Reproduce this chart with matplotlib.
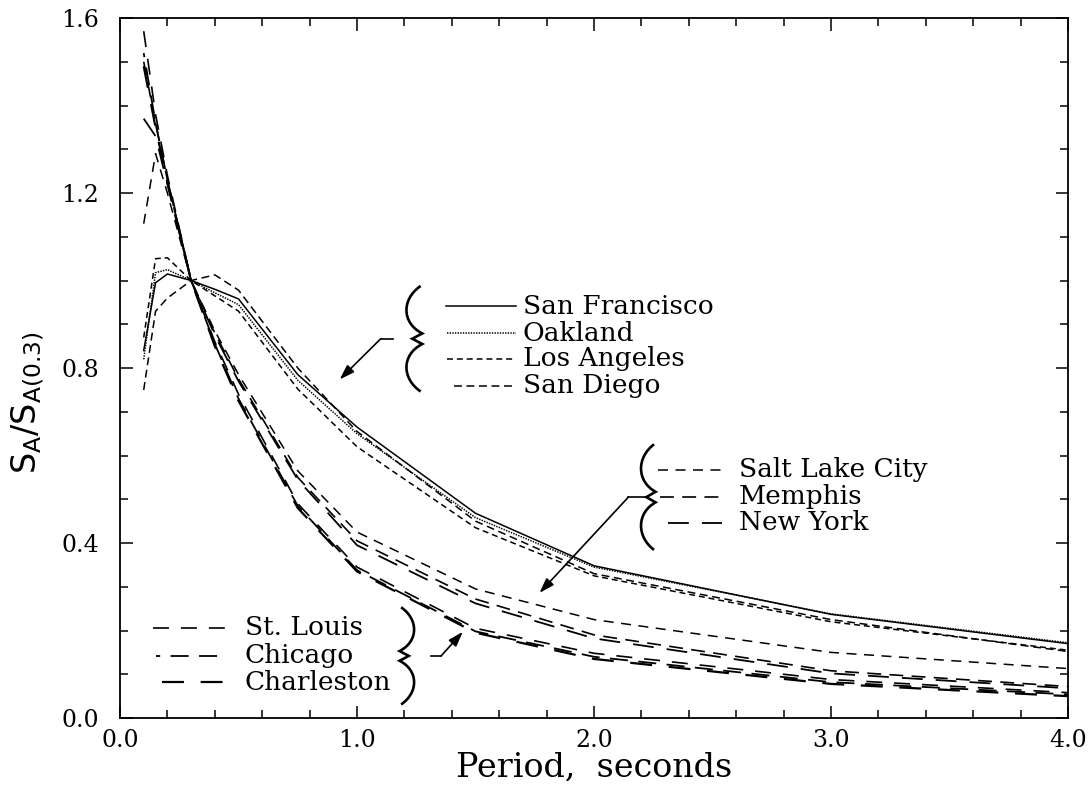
import matplotlib
matplotlib.use("Agg")
import matplotlib.pyplot as plt
import matplotlib.transforms as mtransforms
from matplotlib.path import Path
from matplotlib.patches import PathPatch
from matplotlib.ticker import MultipleLocator, FormatStrFormatter

plt.rcParams["font.family"] = ["DejaVu Serif"]
plt.rcParams["mathtext.fontset"] = "dejavusans"
plt.rcParams["lines.scale_dashes"] = False

# period (s) and normalised spectral ordinates S_A / S_A(0.3)
periods = [0.1, 0.15, 0.2, 0.3, 0.4, 0.5, 0.75, 1.0, 1.5, 2.0, 3.0, 4.0]

san_francisco = [0.84, 0.995, 1.015, 1.0, 0.980, 0.958, 0.785, 0.665, 0.468, 0.348, 0.237, 0.170]
oakland       = [0.82, 1.018, 1.025, 1.0, 0.972, 0.945, 0.772, 0.650, 0.458, 0.345, 0.238, 0.172]
los_angeles   = [0.87, 1.050, 1.052, 1.0, 0.965, 0.930, 0.752, 0.620, 0.435, 0.325, 0.220, 0.155]
san_diego     = [0.75, 0.930, 0.960, 1.0, 1.013, 0.978, 0.800, 0.655, 0.450, 0.330, 0.225, 0.152]

salt_lake  = [1.13, 1.29, 1.20, 1.0, 0.885, 0.785, 0.565, 0.425, 0.295, 0.225, 0.150, 0.113]
memphis    = [1.50, 1.36, 1.23, 1.0, 0.880, 0.775, 0.550, 0.405, 0.272, 0.190, 0.108, 0.072]
new_york   = [1.37, 1.33, 1.22, 1.0, 0.875, 0.770, 0.545, 0.395, 0.262, 0.182, 0.102, 0.068]
st_louis   = [1.57, 1.38, 1.24, 1.0, 0.860, 0.740, 0.490, 0.345, 0.205, 0.148, 0.088, 0.058]
chicago    = [1.52, 1.36, 1.23, 1.0, 0.855, 0.730, 0.485, 0.338, 0.198, 0.140, 0.082, 0.054]
charleston = [1.49, 1.35, 1.225, 1.0, 0.850, 0.725, 0.480, 0.335, 0.195, 0.135, 0.078, 0.050]

west_names = ["San Francisco", "Oakland", "Los Angeles", "San Diego"]
central_names = ["Salt Lake City", "Memphis", "New York"]
east_names = ["St. Louis", "Chicago", "Charleston"]

series = {
    "San Francisco": san_francisco, "Oakland": oakland,
    "Los Angeles": los_angeles, "San Diego": san_diego,
    "Salt Lake City": salt_lake, "Memphis": memphis, "New York": new_york,
    "St. Louis": st_louis, "Chicago": chicago, "Charleston": charleston,
}

# line style (dash pattern in points) and width per city
styles = {
    "San Francisco": ("-", 1.1),
    "Oakland": ((0, (1.0, 0.9)), 1.1),
    "Los Angeles": ((0, (4.3, 2.8)), 1.1),
    "San Diego": ((0, (5.7, 3.3)), 1.1),
    "Salt Lake City": ((0, (7.2, 5.4)), 1.1),
    "Memphis": ((0, (10, 6)), 1.2),
    "New York": ((0, (15, 9.4)), 1.3),
    "St. Louis": ((0, (11.5, 8.6)), 1.2),
    "Chicago": ((10, (13, 7.5)), 1.3),
    "Charleston": ((0, (15.8, 12)), 1.6),
}

fig = plt.figure(figsize=(10.91, 7.92), dpi=100)
ax = fig.add_axes([0.110, 0.0934, 0.869, 0.8838])

for name, vals in series.items():
    ls, lw = styles[name]
    ax.plot(periods, vals, color="black", linestyle=ls, linewidth=lw)

ax.set_xlim(0, 4)
ax.set_ylim(0, 1.6)
ax.xaxis.set_major_locator(MultipleLocator(1.0))
ax.xaxis.set_minor_locator(MultipleLocator(0.2))
ax.yaxis.set_major_locator(MultipleLocator(0.4))
ax.yaxis.set_minor_locator(MultipleLocator(0.1))
ax.xaxis.set_major_formatter(FormatStrFormatter("%.1f"))
ax.yaxis.set_major_formatter(FormatStrFormatter("%.1f"))
ax.tick_params(which="both", direction="in", top=True, right=True, width=1.1)
ax.tick_params(which="major", length=9)
ax.tick_params(which="minor", length=6)
ax.tick_params(axis="x", which="major", labelsize=17, pad=8)
ax.tick_params(axis="y", which="major", labelsize=17, pad=15)
for sp in ax.spines.values():
    sp.set_linewidth(1.3)

ax.set_xlabel("Period,  seconds", fontsize=24, labelpad=0)
ax.set_ylabel(r"$\mathrm{S_A/S_{A(0.3)}}$", fontsize=24)
ax.yaxis.set_label_coords(-0.078, 0.45)


def brace(x, y, half_h, w, facing="left", lw=1.9):
    # curly brace, size in points, anchored at its outer bulge (x, y) in data coords
    s = 1 if facing == "left" else -1
    pts = [(0.9 * w, half_h), (-0.25 * w, 0.75 * half_h), (-0.25 * w, 0.3 * half_h),
           (w, 0.1 * half_h), (0.4 * w, 0), (w, -0.1 * half_h),
           (-0.25 * w, -0.3 * half_h), (-0.25 * w, -0.75 * half_h), (0.9 * w, -half_h)]
    codes = [Path.MOVETO, Path.CURVE4, Path.CURVE4, Path.CURVE4, Path.LINETO,
             Path.LINETO, Path.CURVE4, Path.CURVE4, Path.CURVE4]
    verts = [(s * px / 72, py / 72) for px, py in pts]
    trans = fig.dpi_scale_trans + mtransforms.ScaledTranslation(x, y, ax.transData)
    ax.add_patch(PathPatch(Path(verts, codes), transform=trans, fill=False,
                           lw=lw, clip_on=False))


def pointer(start, elbow, tip):
    ax.plot([start[0], elbow[0]], [start[1], elbow[1]], color="black", lw=1.2)
    ax.annotate("", xy=tip, xytext=elbow,
                arrowprops=dict(arrowstyle="-|>,head_length=0.9,head_width=0.3",
                                color="black", lw=1.2, shrinkA=0, shrinkB=0))


def legend_block(names, x0s, x1, xt, ys):
    for name, x0, y in zip(names, x0s, ys):
        ls, lw = styles[name]
        ax.plot([x0, x1], [y, y], color="black", linestyle=ls, linewidth=lw,
                clip_on=False)
        ax.text(xt, y, name, fontsize=19, va="center")


# west coast group
legend_block(west_names, [1.375, 1.38, 1.378, 1.41], 1.67, 1.70,
             [0.941, 0.880, 0.821, 0.759])
brace(1.205, 0.867, 38, 12)
pointer((1.15, 0.867), (1.10, 0.867), (0.927, 0.774))

# central group
legend_block(central_names, [2.27, 2.28, 2.31], 2.54, 2.61, [0.567, 0.506, 0.446])
brace(2.195, 0.505, 38, 11)
pointer((2.225, 0.505), (2.145, 0.505), (1.77, 0.286))

# eastern group
legend_block(east_names, [0.141, 0.15, 0.178], 0.449, 0.526, [0.206, 0.142, 0.082])
brace(1.244, 0.142, 35, 11, facing="right")
pointer((1.31, 0.142), (1.355, 0.142), (1.446, 0.197))

fig.savefig("out.png", dpi=100)
